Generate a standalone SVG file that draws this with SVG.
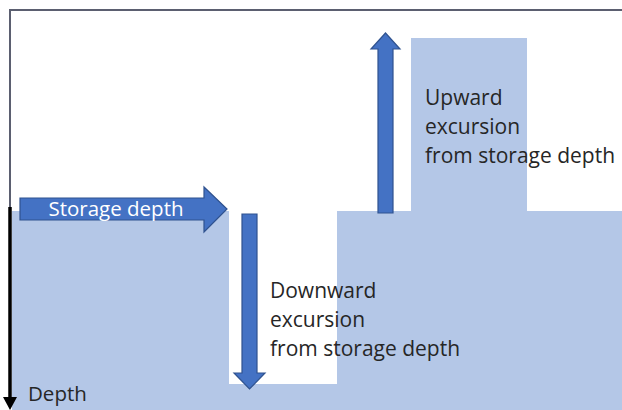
<svg xmlns="http://www.w3.org/2000/svg" width="622" height="410" viewBox="0 0 622 410">
<style>
.arrow{fill:#4472c4;stroke:#2f528f;stroke-width:1.2}
.lbl{font-family:"Open Sans","Liberation Sans",sans-serif;font-size:21px;fill:#262626}
</style>
<rect width="622" height="410" fill="#fff"/>
<g id="ground">
<path d="M12,211 H229 V384 H337 V211 H411 V38 H527 V211 H622 V410 H12 Z" fill="#b4c7e7"/>
</g>
<g id="frame">
<path d="M10,208 V10 H622" fill="none" stroke="#5b5f70" stroke-width="2"/>
</g>
<g id="connectors">
<line x1="10" y1="207" x2="10" y2="400" stroke="#000" stroke-width="3.5"/>
<path d="M3,397 L17,397 L10,410 Z" fill="#000"/>
</g>
<g id="storage-depth">
<path class="arrow" d="M20,198 H204 V187 L227,209 L204,232 V220 H20 Z"/>
<text x="116" y="216" text-anchor="middle" font-family="'Open Sans','Liberation Sans',sans-serif" font-size="20.5" fill="#fff">Storage depth</text>
</g>
<g id="downward">
<path class="arrow" d="M242,214 H257 V373 H265 L249.5,389 L234,373 H242 Z"/>
<text class="lbl" x="270" y="298">Downward</text>
<text class="lbl" x="270" y="327">excursion</text>
<text class="lbl" x="270" y="356">from storage depth</text>
</g>
<g id="upward">
<path class="arrow" d="M378,213 V49 H371 L385.5,33 L400,49 H393 V213 Z"/>
<text class="lbl" x="425" y="105">Upward</text>
<text class="lbl" x="425" y="134">excursion</text>
<text class="lbl" x="425" y="163">from storage depth</text>
</g>
<g id="depth-label">
<text x="28" y="401" font-family="'Open Sans','Liberation Sans',sans-serif" font-size="20.5" fill="#262626">Depth</text>
</g>
</svg>
